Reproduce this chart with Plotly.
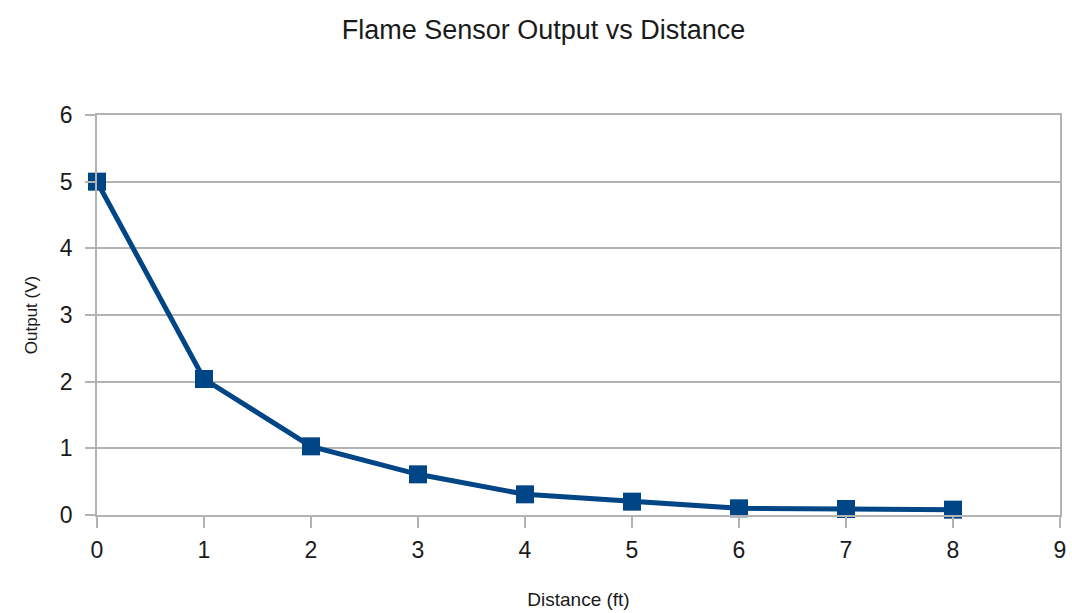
import plotly.graph_objects as go

distance_ft = [0, 1, 2, 3, 4, 5, 6, 7, 8]
output_v = [5.0, 2.04, 1.03, 0.61, 0.31, 0.20, 0.10, 0.09, 0.08]
x_ticks = [0, 1, 2, 3, 4, 5, 6, 7, 8, 9]
y_ticks = [0, 1, 2, 3, 4, 5, 6]

FONT = "Liberation Sans, Arial, sans-serif"
GRID = "#b3b3b3"
BLUE = "#004586"

fig = go.Figure()
fig.add_trace(go.Scatter(
    x=distance_ft, y=output_v, mode="lines+markers",
    line=dict(color=BLUE, width=5),
    marker=dict(symbol="square", size=18, color=BLUE),
    cliponaxis=False, showlegend=False,
))

fig.update_layout(
    width=1072, height=613,
    margin=dict(l=97, r=6, t=115, b=98),
    paper_bgcolor="white", plot_bgcolor="white",
    title=dict(text="Flame Sensor Output vs Distance", x=0.507, xanchor="center",
               y=0.951, yanchor="middle",
               font=dict(family=FONT, size=27, color="#1a1a1a")),
    font=dict(family=FONT, color="#1a1a1a"),
)
fig.update_xaxes(
    range=[0, 9], tickvals=x_ticks, showgrid=False, zeroline=False,
    showline=True, linecolor=GRID, linewidth=1.5, mirror=True,
    ticks="outside", ticklen=11, tickcolor=GRID, tickwidth=1.5,
    tickfont=dict(size=23, color="#1a1a1a"), ticklabelstandoff=3,
    title=dict(text="Distance (ft)", font=dict(size=19, color="#1a1a1a"), standoff=30),
)
fig.update_yaxes(
    range=[0, 6], tickvals=y_ticks, showgrid=True, gridcolor=GRID, gridwidth=1.5,
    zeroline=False, showline=True, linecolor=GRID, linewidth=1.5, mirror=True,
    ticks="outside", ticklen=10, tickcolor=GRID, tickwidth=1.5,
    tickfont=dict(size=23, color="#1a1a1a"), ticklabelstandoff=8,
    title=dict(text="Output (V)", font=dict(size=17, color="#1a1a1a"), standoff=18),
)

fig.write_html("out.html")
